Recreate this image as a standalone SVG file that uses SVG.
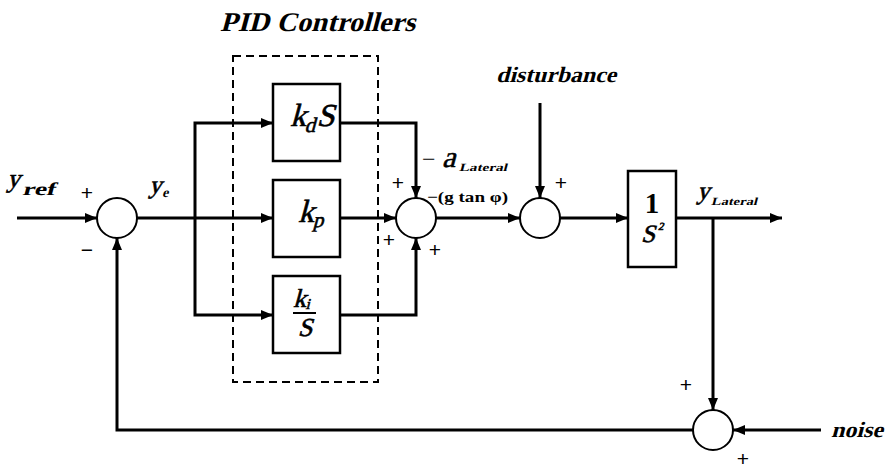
<svg xmlns="http://www.w3.org/2000/svg" width="888" height="470" viewBox="0 0 888 470">
<defs>
<marker id="ah" markerWidth="12" markerHeight="10" refX="12" refY="5" orient="auto" markerUnits="userSpaceOnUse">
<path d="M0,0 L12,5 L0,10 Z" fill="#000"/>
</marker>
<style>
.w{fill:none;stroke:#000;stroke-width:3;stroke-linejoin:miter}
.a{marker-end:url(#ah)}
.blk{fill:#fff;stroke:#000;stroke-width:2.5}
.sum{fill:#fff;stroke:#000;stroke-width:2}
.t{font-family:"Liberation Serif",serif;font-weight:bold;fill:#000}
.m{font-family:"Liberation Serif",serif;fill:#000;stroke:#000;stroke-width:0.6}
.s{font-family:"Liberation Serif",serif;fill:#000}
.p{font-family:"Liberation Sans",sans-serif;font-size:21px;fill:#000}
</style>
</defs>
<rect width="888" height="470" fill="#fff"/>
<g id="pid-frame">
<rect x="233" y="56" width="145" height="326" fill="none" stroke="#000" stroke-width="2" stroke-dasharray="8,5"/>
<text class="t" transform="translate(220,31) skewX(-15)" font-size="27" textLength="195" lengthAdjust="spacingAndGlyphs">PID Controllers</text>
</g>
<g id="connectors">
<path class="w a" d="M17,218 H97"/>
<path class="w" d="M137,218 H195"/>
<path class="w a" d="M195,218 H273"/>
<path class="w a" d="M195,218 V123 H273"/>
<path class="w a" d="M195,218 V315 H273"/>
<path class="w a" d="M340,123 H416 V198"/>
<path class="w a" d="M340,218 H396"/>
<path class="w a" d="M340,315 H416 V238"/>
<path class="w a" d="M436,218 H520"/>
<path class="w a" d="M540,103 V198"/>
<path class="w a" d="M560,218 H628"/>
<path class="w a" d="M676,218 H782"/>
<path class="w a" d="M713,218 V410"/>
<path class="w a" d="M821,430 H733"/>
<path class="w a" d="M693,430 H117 V238"/>
</g>
<g id="sum1">
<circle class="sum" cx="117" cy="218" r="20"/>
<text class="p" x="87" y="200" text-anchor="middle">+</text>
<text class="p" x="87" y="257" text-anchor="middle">−</text>
</g>
<g id="kd">
<rect class="blk" x="273" y="84" width="67" height="77"/>
<text class="m" transform="translate(290,126) skewX(-15)" font-size="32">k<tspan font-size="21" dy="6">d</tspan><tspan dy="-6">S</tspan></text>
</g>
<g id="kp">
<rect class="blk" x="273" y="180" width="67" height="77"/>
<text class="m" transform="translate(298,222) skewX(-15)" font-size="32">k<tspan font-size="21" dy="5">p</tspan></text>
</g>
<g id="ki">
<rect class="blk" x="273" y="276" width="67" height="77"/>
<text class="m" transform="translate(293,307) skewX(-15)" font-size="26">k<tspan font-size="15" dy="2">i</tspan></text>
<line x1="293" y1="313" x2="316" y2="313" stroke="#000" stroke-width="2"/>
<text class="m" transform="translate(305,336) skewX(-15)" font-size="26" text-anchor="middle">S</text>
</g>
<g id="sum2">
<circle class="sum" cx="416" cy="218" r="20"/>
<text class="p" x="398" y="190" text-anchor="middle">+</text>
<text class="p" x="389" y="247" text-anchor="middle">+</text>
<text class="p" x="435" y="257" text-anchor="middle">+</text>
<text class="s" x="422" y="167" font-size="24">−</text>
<text class="m" transform="translate(442,167) skewX(-15)" font-size="30">a</text>
<text class="t" transform="translate(459,171) skewX(-15)" font-size="11" textLength="48" lengthAdjust="spacingAndGlyphs">Lateral</text>
<text class="s" x="427" y="202" font-size="15" font-weight="bold" textLength="81" lengthAdjust="spacingAndGlyphs">−(g tan φ)</text>
</g>
<g id="sum3">
<circle class="sum" cx="540" cy="218" r="20"/>
<text class="t" transform="translate(496,82) skewX(-15)" font-size="22" textLength="120" lengthAdjust="spacingAndGlyphs">disturbance</text>
<text class="p" x="561" y="190" text-anchor="middle">+</text>
</g>
<g id="plant">
<rect class="blk" x="628" y="171" width="48" height="96"/>
<text class="s" x="652" y="213" font-size="29" font-weight="bold" text-anchor="middle">1</text>
<text class="m" transform="translate(641,242) skewX(-15)" font-size="25">S<tspan font-size="11" dy="-12">2</tspan></text>
</g>
<g id="labels">
<text class="m" transform="translate(7,187) skewX(-15)" font-size="26">y</text>
<text class="t" transform="translate(22,195) skewX(-15)" font-size="18" textLength="33" lengthAdjust="spacingAndGlyphs">ref</text>
<text class="m" transform="translate(149,193) skewX(-15)" font-size="25">y</text>
<text class="t" transform="translate(162,197) skewX(-15)" font-size="14">e</text>
<text class="m" transform="translate(697,199) skewX(-15)" font-size="25">y</text>
<text class="t" transform="translate(711,205) skewX(-15)" font-size="11" textLength="46" lengthAdjust="spacingAndGlyphs">Lateral</text>
</g>
<g id="sum4">
<circle class="sum" cx="713" cy="430" r="20"/>
<text class="p" x="686" y="392" text-anchor="middle">+</text>
<text class="p" x="743" y="466" font-size="19" text-anchor="middle">+</text>
<text class="t" transform="translate(831,437) skewX(-15)" font-size="22" textLength="52" lengthAdjust="spacingAndGlyphs">noise</text>
</g>
</svg>
